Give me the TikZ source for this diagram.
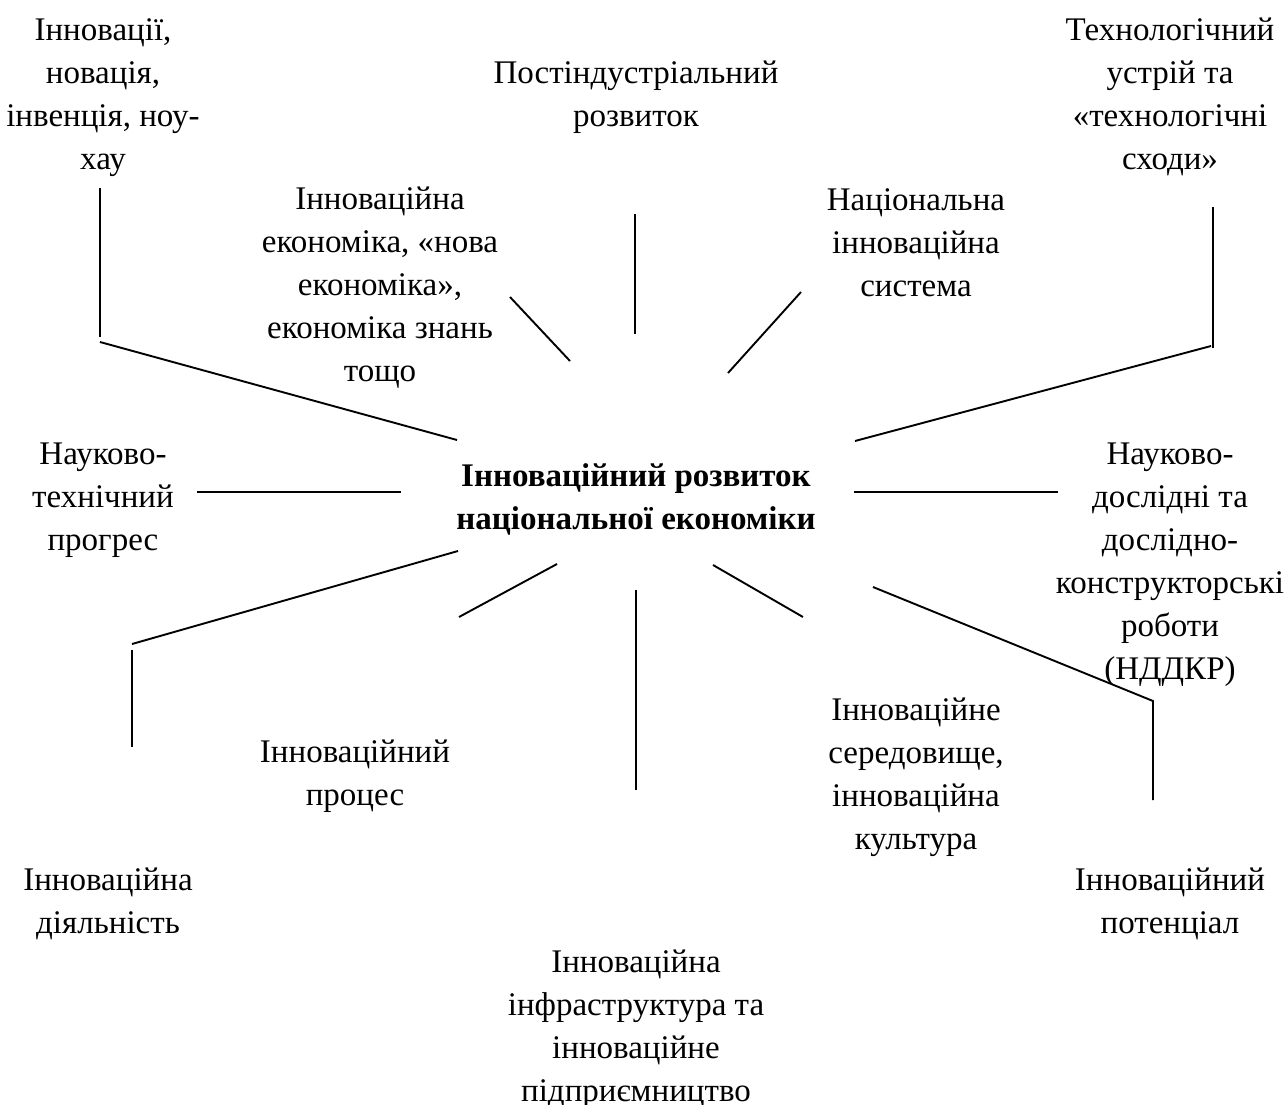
\documentclass[tikz,border=0pt]{standalone}
\usepackage{fontspec}
\setmainfont{Liberation Serif}
\begin{document}
\begin{tikzpicture}[x=1pt,y=-1pt,
  lbl/.style={align=center,inner sep=0pt,font=\fontsize{33}{43}\selectfont},
  hub/.style={lbl,font=\fontsize{33}{43}\selectfont\bfseries},
  link/.style={line width=1.9pt,line cap=butt}]
\useasboundingbox (0,0) rectangle (1288,1104);
% labels
\node[lbl] (n1) at (103,96) {\strut Інновації,\\новація,\\інвенція, ноу-\\хау\strut};
\node[lbl] (n2) at (636,96) {\strut Постіндустріальний\\розвиток\strut};
\node[lbl] (n3) at (1170,96) {\strut Технологічний\\устрій та\\«технологічні\\сходи»\strut};
\node[lbl] (n4) at (380,287) {\strut Інноваційна\\економіка, «нова\\економіка»,\\економіка знань\\тощо\strut};
\node[lbl] (n5) at (916,245) {\strut Національна\\інноваційна\\система\strut};
\node[hub] (c) at (636,499) {\strut Інноваційний розвиток\\національної економіки\strut};
\node[lbl] (n7) at (103,499) {\strut Науково-\\технічний\\прогрес\strut};
\node[lbl] (n8) at (1170,563) {\strut Науково-\\дослідні та\\дослідно-\\конструкторські\\роботи\\(НДДКР)\strut};
\node[lbl] (n9) at (355,775) {\strut Інноваційний\\процес\strut};
\node[lbl] (n10) at (916,776) {\strut Інноваційне\\середовище,\\інноваційна\\культура\strut};
\node[lbl] (n11) at (108,903) {\strut Інноваційна\\діяльність\strut};
\node[lbl] (n12) at (1170,903) {\strut Інноваційний\\потенціал\strut};
\node[lbl] (n13) at (636,1028) {\strut Інноваційна\\інфраструктура та\\інноваційне\\підприємництво\strut};
% connector end points
\coordinate (a1) at (100,188); \coordinate (a2) at (100,337);
\coordinate (a3) at (100,342); \coordinate (a4) at (457,440);
\coordinate (b1) at (635,214); \coordinate (b2) at (635,334);
\coordinate (d1) at (510,297); \coordinate (d2) at (570,361);
\coordinate (e1) at (801,292); \coordinate (e2) at (728,373);
\coordinate (f1) at (1213,207); \coordinate (f2) at (1213,348);
\coordinate (f3) at (1211,346); \coordinate (f4) at (855,441);
\coordinate (g1) at (197,492); \coordinate (g2) at (401,492);
\coordinate (h1) at (854,492); \coordinate (h2) at (1058,492);
\coordinate (i1) at (458,551); \coordinate (i2) at (132,644);
\coordinate (i3) at (132,650); \coordinate (i4) at (132,747);
\coordinate (j1) at (557,564); \coordinate (j2) at (459,617);
\coordinate (k1) at (636,590); \coordinate (k2) at (636,790);
\coordinate (l1) at (713,565); \coordinate (l2) at (803,617);
\coordinate (m1) at (873,587); \coordinate (m2) at (1153,701);
\coordinate (m3) at (1153,800);
% connectors
\draw[link] (a1) -- (a2);
\draw[link] (a3) -- (a4);
\draw[link] (b1) -- (b2);
\draw[link] (d1) -- (d2);
\draw[link] (e1) -- (e2);
\draw[link] (f1) -- (f2);
\draw[link] (f3) -- (f4);
\draw[link] (g1) -- (g2);
\draw[link] (h1) -- (h2);
\draw[link] (i1) -- (i2);
\draw[link] (i3) -- (i4);
\draw[link] (j1) -- (j2);
\draw[link] (k1) -- (k2);
\draw[link] (l1) -- (l2);
\draw[link] (m1) -- (m2) -- (m3);
\end{tikzpicture}
\end{document}
